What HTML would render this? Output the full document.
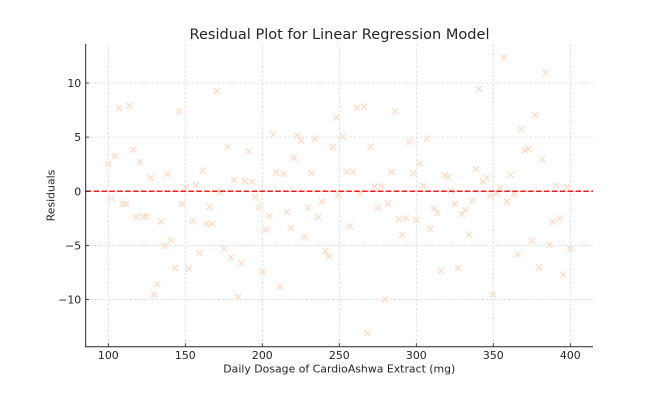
<!DOCTYPE html>
<html><head><meta charset="utf-8"><style>
html,body{margin:0;padding:0;background:#fff;}
svg{display:block;}
text{font-family:"DejaVu Sans","Liberation Sans",sans-serif;fill:#262626;}
</style></head><body>
<svg width="647" height="402" viewBox="0 0 647 402" xmlns="http://www.w3.org/2000/svg">
<rect width="647" height="402" fill="#fff"/>
<g stroke="#d4d4d4" stroke-width="0.8" stroke-dasharray="2.2,2.2" fill="none">
<line x1="108.3" y1="44" x2="108.3" y2="346.5"/>
<line x1="185.3" y1="44" x2="185.3" y2="346.5"/>
<line x1="262.3" y1="44" x2="262.3" y2="346.5"/>
<line x1="339.3" y1="44" x2="339.3" y2="346.5"/>
<line x1="416.3" y1="44" x2="416.3" y2="346.5"/>
<line x1="493.3" y1="44" x2="493.3" y2="346.5"/>
<line x1="570.3" y1="44" x2="570.3" y2="346.5"/>
<line x1="85.7" y1="83" x2="593" y2="83"/>
<line x1="85.7" y1="137.1" x2="593" y2="137.1"/>
<line x1="85.7" y1="191.3" x2="593" y2="191.3"/>
<line x1="85.7" y1="245.4" x2="593" y2="245.4"/>
<line x1="85.7" y1="299.5" x2="593" y2="299.5"/>
</g>
<g id="pts" stroke="#ffdcc5" stroke-width="1.35" fill="none" stroke-linecap="butt"></g>
<line x1="85.7" y1="191.3" x2="593" y2="191.3" stroke="#ff1a1a" stroke-width="1.5" stroke-dasharray="5.5,2.4"/>
<g stroke="#262626" stroke-width="1" fill="none">
<line x1="85.7" y1="44" x2="85.7" y2="346.7"/>
<line x1="85.2" y1="346.7" x2="593" y2="346.7"/>
</g>
<g stroke="#262626" stroke-width="0.8">
<line x1="108.3" y1="346.7" x2="108.3" y2="343.2"/>
<line x1="185.3" y1="346.7" x2="185.3" y2="343.2"/>
<line x1="262.3" y1="346.7" x2="262.3" y2="343.2"/>
<line x1="339.3" y1="346.7" x2="339.3" y2="343.2"/>
<line x1="416.3" y1="346.7" x2="416.3" y2="343.2"/>
<line x1="493.3" y1="346.7" x2="493.3" y2="343.2"/>
<line x1="570.3" y1="346.7" x2="570.3" y2="343.2"/>
<line x1="85.7" y1="83" x2="89.2" y2="83"/>
<line x1="85.7" y1="137.1" x2="89.2" y2="137.1"/>
<line x1="85.7" y1="191.3" x2="89.2" y2="191.3"/>
<line x1="85.7" y1="245.4" x2="89.2" y2="245.4"/>
<line x1="85.7" y1="299.5" x2="89.2" y2="299.5"/>
</g>
<g font-size="10.9" text-anchor="middle">
<text x="108.3" y="358.8">100</text>
<text x="185.3" y="358.8">150</text>
<text x="262.3" y="358.8">200</text>
<text x="339.3" y="358.8">250</text>
<text x="416.3" y="358.8">300</text>
<text x="493.3" y="358.8">350</text>
<text x="570.3" y="358.8">400</text>
</g>
<g font-size="10.9" text-anchor="end">
<text x="81.2" y="87">10</text>
<text x="81.2" y="141.1">5</text>
<text x="81.2" y="195.3">0</text>
<text x="81.2" y="249.4">−5</text>
<text x="81.2" y="303.5">−10</text>
</g>
<text x="339.3" y="372.5" font-size="10.9" text-anchor="middle" textLength="232" lengthAdjust="spacingAndGlyphs">Daily Dosage of CardioAshwa Extract (mg)</text>
<text x="0" y="0" font-size="10.9" text-anchor="middle" transform="translate(54.3,195.5) rotate(-90)">Residuals</text>
<text x="339.5" y="39" font-size="14.4" text-anchor="middle" textLength="300" lengthAdjust="spacingAndGlyphs">Residual Plot for Linear Regression Model</text>
</svg>
<script>
(function(){
var p=[
[119,108.3],[129.3,105.7],[178.7,111.7],[133.3,149.7],[115.3,156],[108.3,164],[140,162],[202.7,170.7],[150.7,178],[167.7,174],[185.3,187.3],[196,185],[111.7,198.7],[122.7,204],[126,204],[182,203.7],[209.5,206.7],[136,216.7],[143.3,216.7],[146.7,216.3],[161,221.7],[192.7,220.7],[206.7,223.7],[212.5,223.8],[171.3,240.3],[164.7,246],[199.3,253.3],[175,268],[188.7,268.7],[157.3,284.3],[154,294.7],
[217,91],[336.5,117.5],[273,134.3],[297.3,135],[301,140.7],[315,138.7],[227.7,146.7],[248.7,151.3],[332.7,147.3],[294,158],[276.3,172.7],[283.7,174],[311.3,173],[234.3,180],[244.7,180.7],[252,181.7],[220.3,192],[338.5,195.2],[255.3,197.3],[322,201.3],[258.7,207.7],[308,207.7],[269.3,216],[287,212.3],[318.3,217],[266,229.7],[290.7,228],[304.7,236.7],[224,248.3],[231,257.3],[241.3,263.3],[325.3,251.3],[328.7,256],[262.3,271.7],[280,287],[238,297.3],
[357,107.7],[364,106.7],[395.3,111.3],[342.7,136.7],[370.7,146.7],[409.3,141.7],[426.7,138.7],[420,163.3],[346.7,171.7],[353,171.7],[391.7,172],[413,173.3],[444.7,175.3],[448,177],[374.7,186.7],[381.3,186.3],[423.3,186],[451.3,190.7],[360.3,193.3],[388.3,203.3],[378,207.7],[434,208.7],[437.3,212.7],[454.7,204],[462,214],[465.2,209.7],[399,219.3],[406,218.3],[416.3,220],[350,226.3],[402.3,235],[430.7,229],[441,270.7],[458.3,268],[385,299.3],[367.3,333],
[503.7,57.7],[545.7,72.7],[479,89],[535,115],[521.3,129.3],[525,150.3],[528.3,149],[542.3,159.3],[476,169.3],[510.7,175],[483,181.7],[486.7,177.7],[500,187.7],[556.3,185.7],[567,187.3],[490,195.7],[496.7,193],[514.3,193.7],[472.3,200.5],[507.3,201.7],[468.7,234.7],[553,222],[560,218.3],[531.7,240.7],[549.3,245],[570.3,249],[517.7,254.7],[539,267.3],[563.3,274.7],[493.3,294.7]
];
var g=document.getElementById('pts'),s='',r=3;
for(var i=0;i<p.length;i++){var x=p[i][0],y=p[i][1];
s+='<path d="M'+(x-r)+' '+(y-r)+'L'+(x+r)+' '+(y+r)+'M'+(x-r)+' '+(y+r)+'L'+(x+r)+' '+(y-r)+'"/>';}
g.innerHTML=s;
})();
</script>
</body></html>
